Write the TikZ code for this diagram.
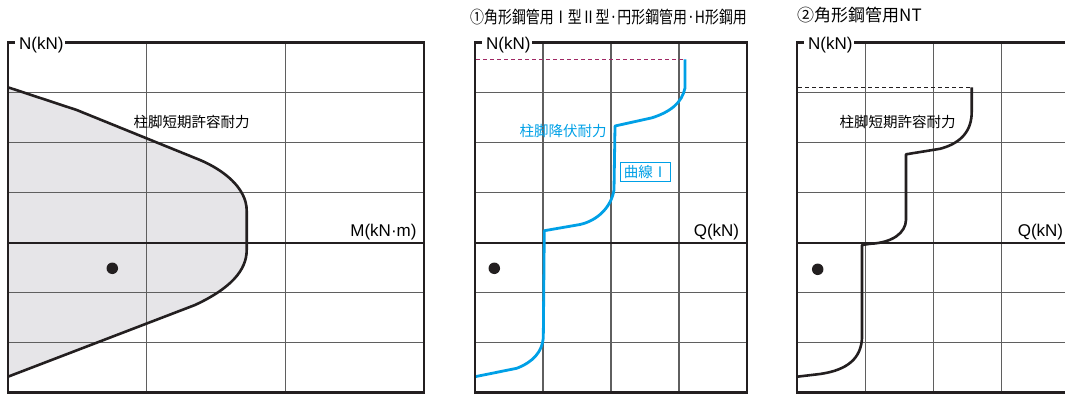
\documentclass[tikz,border=0pt]{standalone}
\usepackage{fontspec}
\usepackage{graphicx}
\usepackage{tikz}
\usetikzlibrary{positioning}
\usetikzlibrary{calc}
\setmainfont{Liberation Sans}
\newfontfamily\jpfont{Noto Sans CJK JP}
\definecolor{framegray}{RGB}{35,31,32}
\definecolor{gridgray}{RGB}{95,95,95}
\definecolor{areagray}{RGB}{230,229,232}
\definecolor{yieldblue}{RGB}{0,160,230}
\definecolor{limitred}{RGB}{160,40,100}
\def\heightP{350}
\def\axisY{200.5}
\def\widthA{416}
\def\widthB{272}
\def\widthC{273}
\def\axisfont{\fontsize{17}{19}\selectfont}
\def\labelsize{\fontsize{14.5}{16}\selectfont}
\def\titlesize{\fontsize{17}{19}\selectfont}

\begin{document}
\begin{tikzpicture}[x=1pt, y=-1pt,
        panelframe/.style={line width=2.5pt, draw=framegray},
        gridline/.style={line width=1.2pt, draw=gridgray},
        axisline/.style={line width=2.5pt, draw=framegray},
        capacity/.style={line width=2.6pt, draw=framegray, line join=round},
        yieldline/.style={line width=2.8pt, draw=yieldblue, line join=round},
        limitline/.style={line width=1.1pt, dash pattern=on 4pt off 3pt},
        axistext/.style={font=\axisfont, inner sep=0pt},
        nlabel/.style={font=\axisfont, fill=white, inner xsep=1pt, inner ysep=2pt, anchor=base west},
        curvetext/.style={font=\jpfont\labelsize, inner sep=0pt},
        titletext/.style={font=\jpfont\titlesize, inner sep=0pt, anchor=west},
        loadpoint/.style={circle, fill=framegray, inner sep=0pt, minimum size=11.5pt}]
    \useasboundingbox (0,0) rectangle (1065,394);

    % M-N
    \begin{scope}[shift={(8,42.7)}]
        \fill[areagray] (0,44.6) -- (68.7,67.3) -- (192,117.3)
            .. controls (215,127) and (238.7,145) .. (238.7,168) -- (238.7,207.3)
            .. controls (238.7,228) and (222,246) .. (187,262.3) -- (0,334) -- cycle;
        \foreach \y in {50,100,...,300} \draw[gridline] (0,\y) -- (\widthA,\y);
        \foreach \x in {138.67,277.33} \draw[gridline] (\x,0) -- (\x,\heightP);
        \draw[axisline] (0,\axisY) -- (\widthA,\axisY);
        \draw[capacity] (0,44.6) -- (68.7,67.3) -- (192,117.3)
            .. controls (215,127) and (238.7,145) .. (238.7,168) -- (238.7,207.3)
            .. controls (238.7,228) and (222,246) .. (187,262.3) -- (0,334);
        \draw[panelframe] (0,0) rectangle (\widthA,\heightP);
        \node[nlabel] (nA) at (7,6.3) {\hspace{3pt}N(kN)};
        \node[axistext, anchor=base east] (mA) at (408.7,193.3) {M(kN·m)};
        \node[curvetext] (capA) at (183.7,79) {柱脚短期許容耐力};
        \node[loadpoint] (pA) at (104.3,225.6) {};
    \end{scope}

    % Q-N (1)
    \begin{scope}[shift={(475,42.7)}]
        \foreach \y in {50,100,...,300} \draw[gridline] (0,\y) -- (\widthB,\y);
        \foreach \x in {68,136,204} \draw[gridline] (\x,0) -- (\x,\heightP);
        \draw[axisline] (0,\axisY) -- (\widthB,\axisY);
        \draw[limitline, limitred] (1,16.6) -- (210,16.6);
        \draw[yieldline] (210,16.6) -- (210,45.3)
            .. controls (207,60.3) and (195,69.3) .. (177,75.1) -- (140,83.3) -- (139,147.3)
            .. controls (136,165) and (122,178) .. (105,181.8) -- (69.3,188) -- (68.3,295.3)
            .. controls (67,309.3) and (58,319.3) .. (41.7,325.6) -- (0,334);
        \draw[panelframe] (0,0) rectangle (\widthB,\heightP);
        \node[nlabel] (nB) at (7,6.3) {\hspace{3pt}N(kN)};
        \node[axistext, anchor=base east] (qB) at (264.3,193.3) {Q(kN)};
        \node[curvetext, yieldblue] (yieldB) at (88,88.3) {柱脚降伏耐力};
        \node[curvetext, yieldblue, draw=yieldblue, fill=white, line width=1pt,
              inner xsep=3pt, inner ysep=3pt] (typeB) at (170.5,129.3) {曲線Ⅰ};
        \node[loadpoint] (pB) at (19.3,225.6) {};
        \node[titletext] (titleB) at (-5,-26)
            {\scalebox{0.82}[1]{①角形鋼管用Ⅰ型Ⅱ型·円形鋼管用·H形鋼用}};
    \end{scope}

    % Q-N (2)
    \begin{scope}[shift={(797,42.7)}]
        \foreach \y in {50,100,...,300} \draw[gridline] (0,\y) -- (\widthC,\y);
        \foreach \x in {68.25,136.5,204.75} \draw[gridline] (\x,0) -- (\x,\heightP);
        \draw[axisline] (0,\axisY) -- (\widthC,\axisY);
        \draw[limitline, framegray] (1,44.6) -- (174.7,44.6);
        \draw[capacity] (174.7,44.6) -- (174.7,69.3)
            .. controls (174.7,87.3) and (165,100.3) .. (143,106.1) -- (109,111.6) -- (109,177.3)
            .. controls (108.5,190) and (96,200) .. (73,201.1) -- (65,202.3) -- (65,295.3)
            .. controls (64,315.3) and (51,327.3) .. (23,331.3) -- (0,334);
        \draw[panelframe] (0,0) rectangle (\widthC,\heightP);
        \node[nlabel] (nC) at (7,6.3) {\hspace{3pt}N(kN)};
        \node[axistext, anchor=base east] (qC) at (266.3,194) {Q(kN)};
        \node[curvetext] (capC) at (100.5,79) {柱脚短期許容耐力};
        \node[loadpoint] (pC) at (20.7,226.6) {};
        \node[titletext] (titleC) at (0,-27.7) {②角形鋼管用NT};
    \end{scope}
\end{tikzpicture}
\end{document}
